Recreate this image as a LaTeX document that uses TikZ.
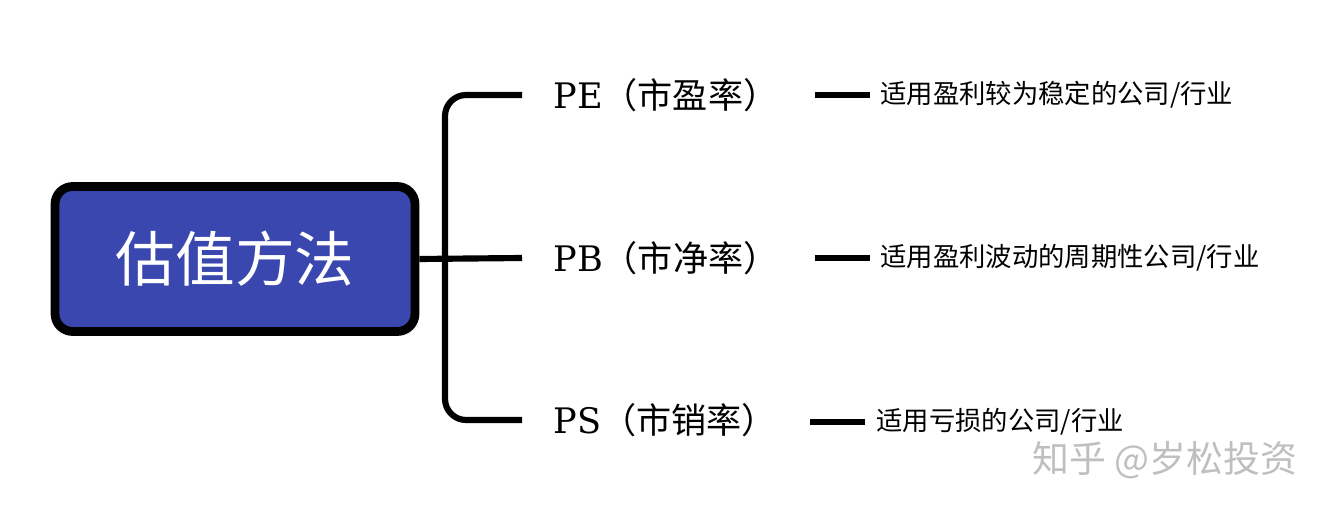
\documentclass[tikz,border=0pt]{standalone}
\usepackage{fontspec}
\setmainfont{DejaVu Serif}
\newfontfamily\cjk{Noto Sans CJK SC}
\usetikzlibrary{positioning}
\definecolor{rootblue}{HTML}{3A47AE}
\tikzset{
  root/.style={draw=black,line width=5pt,fill=rootblue,rounded corners=10pt,
    minimum width=7.2cm,minimum height=2.9cm,text=white,font=\cjk\fontsize{34pt}{36pt}\selectfont},
  ratio/.style={anchor=west,font=\fontsize{20pt}{24pt}\selectfont,inner sep=0pt},
  note/.style={anchor=west,font=\cjk\fontsize{15pt}{16pt}\selectfont,inner sep=0pt},
  conn/.style={line width=3.5pt,rounded corners=12pt},
  stub/.style={line width=3.5pt}
}
\begin{document}
\begin{tikzpicture}[x=0.02cm,y=-0.02cm]
  \useasboundingbox (0,0) rectangle (1344,516);
  \node[root] (method) at (235,259) {估值方法};
  % branches
  \coordinate (tipE) at (522,95);
  \coordinate (tipB) at (522,258);
  \coordinate (tipS) at (522,420);
  \draw[conn] (tipE) -| (445,258) |- (tipS);
  \draw[stub] (method.east) -- (tipB);
  \node[ratio] (pe) at (553,95) {PE{\cjk （市盈率）}};
  \node[ratio] (pb) at (553,258) {PB{\cjk （市净率）}};
  \node[ratio] (ps) at (553,420) {PS{\cjk （市销率）}};
  % notes
  \coordinate (dE) at (815,95);
  \coordinate (dB) at (815,258);
  \coordinate (dS) at (810,422);
  \node[note] (ne) at (880,95) {适用盈利较为稳定的公司/行业};
  \node[note] (nb) at (880,258) {适用盈利波动的周期性公司/行业};
  \node[note] (ns) at (876,422) {适用亏损的公司/行业};
  \draw[stub] (dE) -- ++(55,0);
  \draw[stub] (dB) -- ++(55,0);
  \draw[stub] (dS) -- ++(55,0);
  \node[text=black!25,font=\cjk\fontsize{21pt}{24pt}\selectfont] (mark) at (1165,460) {知乎 @岁松投资};
\end{tikzpicture}
\end{document}
